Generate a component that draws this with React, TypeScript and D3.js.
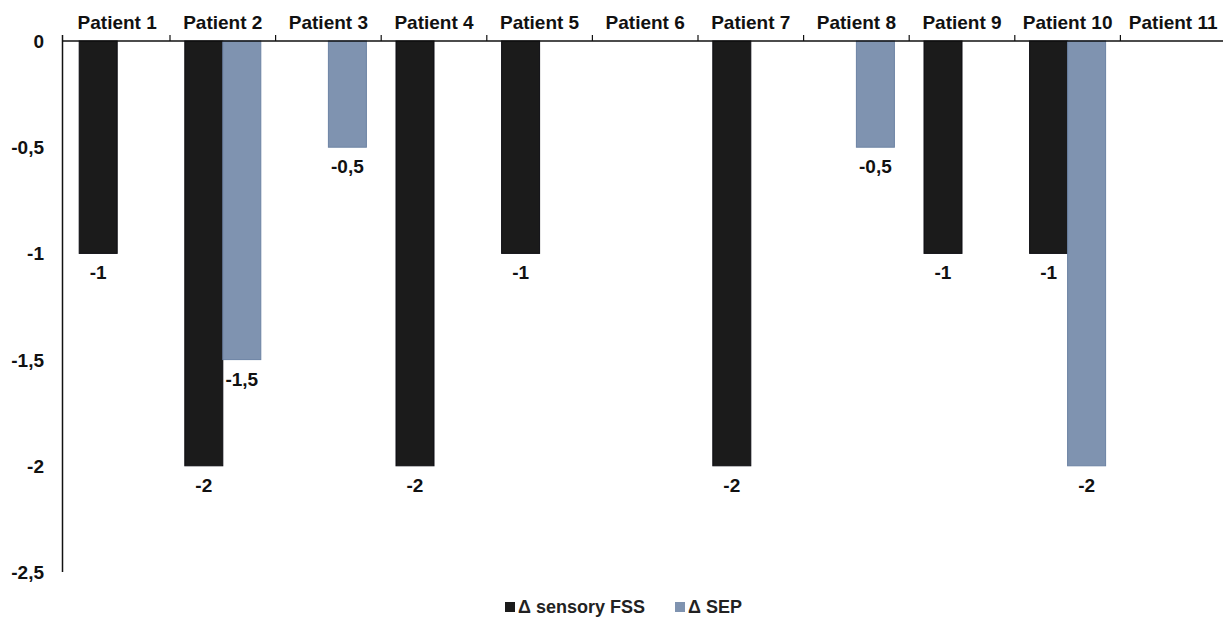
import React, { useEffect, useRef } from "react";
import * as d3 from "d3";

const patients = ["Patient 1", "Patient 2", "Patient 3", "Patient 4", "Patient 5", "Patient 6", "Patient 7", "Patient 8", "Patient 9", "Patient 10", "Patient 11"];
const fssValues = [-1, -2, 0, -2, -1, 0, -2, 0, -1, -1, 0];
const sepValues = [0, -1.5, -0.5, 0, 0, 0, 0, -0.5, 0, -2, 0];
const yTicks = [0, -0.5, -1, -1.5, -2, -2.5];
const seriesNames = ["Δ sensory FSS", "Δ SEP"];
const seriesColors = ["#1b1b1b", "#7f93b0"];
const seriesStroke = ["#0d0d12", "#6c82a3"];

const W = 1223;
const H = 617;
const FONT = "'Liberation Sans', Arial, sans-serif";

export default function App() {
  const ref = useRef<SVGSVGElement | null>(null);

  useEffect(() => {
    const svg = d3.select(ref.current);
    svg.selectAll("*").remove();

    const axisX = 62.5;
    const top = 41;
    const bottom = 572;

    const x = d3.scaleBand<string>().domain(patients).range([64.4, 1226]).paddingInner(0).paddingOuter(0);
    const y = d3.scaleLinear().domain([0, -2.5]).range([top, bottom]);
    const fmt = (v: number) => String(v).replace(".", ",");

    const bw = x.bandwidth();
    const barW = 38;
    const series = [fssValues, sepValues];

    // bars with value labels below their ends
    series.forEach((vals, si) => {
      const g = svg.append("g");
      patients.forEach((p, i) => {
        const v = vals[i];
        if (v === 0) return;
        const cx = (x(p) as number) + bw / 2;
        const x0 = si === 0 ? cx - barW : cx;
        g.append("rect")
          .attr("x", x0)
          .attr("y", y(0))
          .attr("width", barW)
          .attr("height", y(v) - y(0))
          .attr("fill", seriesColors[si])
          .attr("stroke", seriesStroke[si])
          .attr("stroke-width", 1);
        g.append("text")
          .attr("x", x0 + barW / 2)
          .attr("y", y(v) + 26)
          .attr("text-anchor", "middle")
          .attr("font-family", FONT)
          .attr("font-weight", "bold")
          .attr("font-size", 19)
          .attr("fill", "#111")
          .text(fmt(v));
      });
    });

    // y axis line (no tick marks)
    svg.append("line")
      .attr("x1", axisX).attr("x2", axisX)
      .attr("y1", top - 6).attr("y2", bottom)
      .attr("stroke", "#111").attr("stroke-width", 1.5);

    yTicks.forEach((t) => {
      svg.append("text")
        .attr("x", 44)
        .attr("y", y(t) + 7)
        .attr("text-anchor", "end")
        .attr("font-family", FONT)
        .attr("font-weight", "bold")
        .attr("font-size", 19)
        .attr("fill", "#111")
        .text(fmt(t));
    });

    // category axis along zero line, ticks pointing up
    svg.append("line")
      .attr("x1", axisX).attr("x2", W)
      .attr("y1", y(0)).attr("y2", y(0))
      .attr("stroke", "#111").attr("stroke-width", 1.5);

    patients.forEach((p, i) => {
      const xs = (x(p) as number) + bw;
      if (i < patients.length - 1) {
        svg.append("line")
          .attr("x1", xs).attr("x2", xs)
          .attr("y1", y(0) - 6).attr("y2", y(0))
          .attr("stroke", "#111").attr("stroke-width", 1.2);
      }
      svg.append("text")
        .attr("x", (x(p) as number) + bw / 2)
        .attr("y", 29)
        .attr("text-anchor", "middle")
        .attr("font-family", FONT)
        .attr("font-weight", "bold")
        .attr("font-size", 19)
        .attr("fill", "#111")
        .text(p);
    });

    // legend
    const lg = svg.append("g").attr("transform", "translate(505,613)");
    const itemX = [0, 170];
    seriesNames.forEach((name, si) => {
      lg.append("rect")
        .attr("x", itemX[si]).attr("y", -11)
        .attr("width", 10).attr("height", 10)
        .attr("fill", seriesColors[si]);
      lg.append("text")
        .attr("x", itemX[si] + 13)
        .attr("y", 0)
        .attr("font-family", FONT)
        .attr("font-weight", "bold")
        .attr("font-size", 18)
        .attr("fill", "#222")
        .text(name);
    });
  }, []);

  return (
    <svg
      ref={ref}
      width={W}
      height={H}
      style={{ position: "absolute", left: 0, top: 0, background: "#fff" }}
    />
  );
}
